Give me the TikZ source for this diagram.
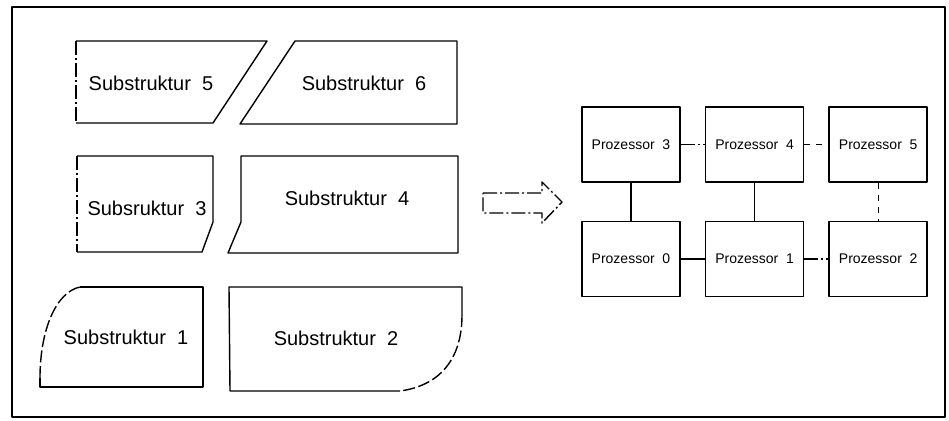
\documentclass[tikz,border=0pt]{standalone}
\usepackage{fontspec}
\setmainfont{Liberation Sans}
\usetikzlibrary{positioning}

\begin{document}
\begin{tikzpicture}[x=0.5pt,y=-0.5pt,line width=0.7pt,line join=round,
  sub/.style={font=\fontsize{10}{12}\selectfont},
  proz/.style={draw,line width=0.8pt,minimum width=49pt,minimum height=37.5pt,inner sep=1pt,font=\fontsize{7}{8.5}\selectfont},
  kante/.style={line width=0.6pt},
  gestr/.style={dash pattern=on 7pt off 1.5pt on 1pt off 1.5pt},
  bogen/.style={dash pattern=on 6pt off 1.8pt}]
\useasboundingbox (0,0) rectangle (949,420);
\draw[line width=0.6pt] (12,7) rectangle (945,417);

% Substrukturen
\draw (76,123) -- (213,123) -- (267,41) -- (76,41);
\draw[gestr] (76,41) -- (76,123);
\node[sub] (s5) at (151,83) {Substruktur\ \ 5};
\draw (295,41) -- (457,41) -- (457,124) -- (240,124) -- cycle;
\node[sub] (s6) at (364,83) {Substruktur\ \ 6};
\draw (77,252) -- (202,252) -- (213,222) -- (213,156) -- (77,156);
\draw[gestr] (77,156) -- (77,252);
\node[sub] (s3) at (147,208) {Subsruktur\ \ 3};
\draw (241,156) -- (458,156) -- (458,253) -- (228,253) -- (241,222) -- cycle;
\node[sub] (s4) at (347,198) {Substruktur\ \ 4};
\draw (80,287) -- (203,287) -- (203,387) -- (40,387) -- (40,378);
\draw[bogen] (40,378) .. controls (40,330) and (56,292) .. (80,287);
\node[sub] (s1) at (126,337) {Substruktur\ \ 1};
\draw (462,315) -- (462,287) -- (229,287) -- (230,391) -- (400,391);
\draw[bogen] (462,315) .. controls (462,362) and (437,386) .. (400,391);
\node[sub] (s2) at (336,338) {Substruktur\ \ 2};

% Pfeil
\draw[gestr] (483,193) -- (542,193) -- (542,182) -- (562,202) -- (542,223) -- (542,213) -- (483,213) -- cycle;

% Prozessoren
\node[proz] (p0) at (631,259) {Prozessor\ \ 0};
\node[proz,right=12pt of p0] (p1) {Prozessor\ \ 1};
\node[proz,right=12pt of p1] (p2) {Prozessor\ \ 2};
\node[proz,above=19pt of p0] (p3) {Prozessor\ \ 3};
\node[proz,above=19pt of p1] (p4) {Prozessor\ \ 4};
\node[proz,above=19pt of p2] (p5) {Prozessor\ \ 5};

\draw[kante,gestr] (p3) -- (p4);
\draw[kante,dashed] (p4) -- (p5);
\draw[kante] (p3) -- (p0);
\draw[kante] (p4) -- (p1);
\draw[kante,dashed] (p5) -- (p2);
\draw[kante] (p0) -- (p1);
\draw[kante,gestr] (p1) -- (p2);
\end{tikzpicture}
\end{document}
